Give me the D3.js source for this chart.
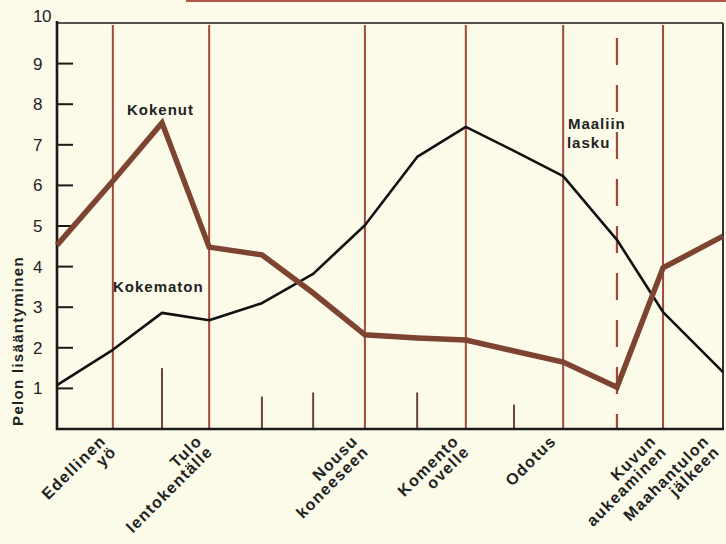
<!DOCTYPE html>
<html><head><meta charset="utf-8">
<script src="https://cdn.jsdelivr.net/npm/d3@7"></script>
<style>
html,body{margin:0;padding:0;background:#fcfae8;}
svg{display:block;}
text{font-family:"Liberation Sans",Arial,Helvetica,sans-serif;}
</style></head>
<body>
<svg id="c" width="726" height="544"></svg>
<script>
// ---- data ----
const steps = [0, 1.09, 2.05, 2.97, 4.0, 5.0, 6.01, 7.03, 7.98, 8.92, 9.88, 10.93, 11.83, 13];
const kokenut   = [4.53, 6.11, 7.54, 4.48, 4.29, 3.35, 2.32, 2.24, 2.19, 1.92, 1.65, 1.03, 3.97, 4.75];
const kokematon = [1.08, 1.95, 2.86, 2.68, 3.10, 3.82, 5.02, 6.70, 7.44, 6.85, 6.23, 4.66, 2.88, 1.40];
const eventIdx   = [1, 3, 6, 8, 10, 12];
const eventLabels = [["Edellinen","yö"],["Tulo","lentokentälle"],["Nousu","koneeseen"],["Komento","ovelle"],["Odotus"],["Kuvun","aukeaminen"]];
const endIdx = 13, endLabel = ["Maahantulon","jälkeen"];
const landingIdx = 11, landingLabel = ["Maaliin","lasku"];
const minorIdx = [2, 4, 5, 7, 9];
const minorLen = [1.5, 0.8, 0.9, 0.9, 0.6];
const yTicks = [1,2,3,4,5,6,7,8,9,10];
const yTitle = "Pelon lisääntyminen";

// ---- layout ----
const svg = d3.select("#c");
const x = d3.scaleLinear().domain([0, 13]).range([57, 723]);
const y = d3.scaleLinear().domain([0, 10]).range([429, 23]);
const brown = "#7c4431", red = "#a2473b", ink = "#1a1a1a";

// top decorative rule
svg.append("line").attr("x1", 186).attr("x2", 726).attr("y1", 1).attr("y2", 1)
  .attr("stroke", "#b0574a").attr("stroke-width", 2);

// event lines
svg.selectAll(".ev").data(eventIdx).enter().append("line")
  .attr("x1", d => x(steps[d])).attr("x2", d => x(steps[d]))
  .attr("y1", y(10) + 2).attr("y2", y(0))
  .attr("stroke", red).attr("stroke-width", 2);
svg.append("line")
  .attr("x1", x(steps[landingIdx])).attr("x2", x(steps[landingIdx]))
  .attr("y1", y(10) + 15).attr("y2", y(0))
  .attr("stroke", red).attr("stroke-width", 2.2).attr("stroke-dasharray", "27,20");

// minor ticks
svg.selectAll(".mn").data(minorIdx).enter().append("line")
  .attr("x1", d => x(steps[d])).attr("x2", d => x(steps[d]))
  .attr("y1", (d, i) => y(minorLen[i])).attr("y2", y(0))
  .attr("stroke", "#6b4434").attr("stroke-width", 2);

// frame
svg.append("line").attr("x1", x(0)).attr("x2", x(13)).attr("y1", y(10)).attr("y2", y(10))
  .attr("stroke", ink).attr("stroke-width", 1.6);
svg.append("line").attr("x1", x(13)).attr("x2", x(13)).attr("y1", y(10)).attr("y2", y(0))
  .attr("stroke", "#333").attr("stroke-width", 2);
svg.append("line").attr("x1", x(0) - 1).attr("x2", x(13) + 1).attr("y1", y(0)).attr("y2", y(0))
  .attr("stroke", ink).attr("stroke-width", 2.4);
svg.append("line").attr("x1", x(0)).attr("x2", x(0)).attr("y1", y(10) - 2).attr("y2", y(0) + 1)
  .attr("stroke", ink).attr("stroke-width", 2.6);

// y ticks + labels
svg.selectAll(".yt").data(yTicks.filter(d => d < 10)).enter().append("line")
  .attr("x1", x(0)).attr("x2", x(0) + 16)
  .attr("y1", d => y(d)).attr("y2", d => y(d))
  .attr("stroke", ink).attr("stroke-width", 2);
svg.selectAll(".yl").data(yTicks).enter().append("text")
  .attr("x", 33).attr("y", d => y(d) + (d === 10 ? -7 : 0))
  .attr("dy", "0.35em").attr("font-size", 17).attr("fill", "#222")
  .attr("letter-spacing", d => d === 10 ? -0.5 : 0)
  .text(d => d);

// y title
svg.append("text").attr("transform", "translate(23,341) rotate(-90)")
  .attr("text-anchor", "middle").attr("font-size", 15).attr("font-weight", "bold")
  .attr("letter-spacing", 1.3).attr("fill", "#222").text(yTitle);

// series
const pts = arr => arr.map((v, i) => [x(steps[i]), y(v)]);
const line = d3.line();
svg.append("path").attr("d", line(pts(kokematon))).attr("fill", "none")
  .attr("stroke", "#111").attr("stroke-width", 2.6).attr("stroke-linejoin", "round");
svg.append("path").attr("d", line(pts(kokenut))).attr("fill", "none")
  .attr("stroke", brown).attr("stroke-width", 5.5).attr("stroke-linejoin", "miter");

// series labels
const lab = (tx, ty, t) => svg.append("text").attr("x", tx).attr("y", ty)
  .attr("font-size", 15).attr("font-weight", "bold").attr("letter-spacing", 1)
  .attr("fill", "#222").text(t);
lab(127, 115, "Kokenut");
lab(113, 292, "Kokematon");
lab(x(steps[landingIdx]) - 49, 129, landingLabel[0]);
lab(x(steps[landingIdx]) - 50, 148, landingLabel[1]);

// x labels
const allIdx = eventIdx.concat([endIdx]);
const allLabels = eventLabels.concat([endLabel]);
allIdx.forEach((idx, k) => {
  const shift = idx === endIdx ? -13 : -6;
  const g = svg.append("text")
    .attr("transform", `translate(${x(steps[idx]) + shift},${y(0) + 13}) rotate(-45)`)
    .attr("text-anchor", "end").attr("font-size", 16).attr("font-weight", "bold")
    .attr("letter-spacing", 1.3).attr("fill", "#222");
  allLabels[k].forEach((t, j) => {
    g.append("tspan").attr("x", 0).attr("y", j * 15).text(t);
  });
});
</script>
</body></html>
